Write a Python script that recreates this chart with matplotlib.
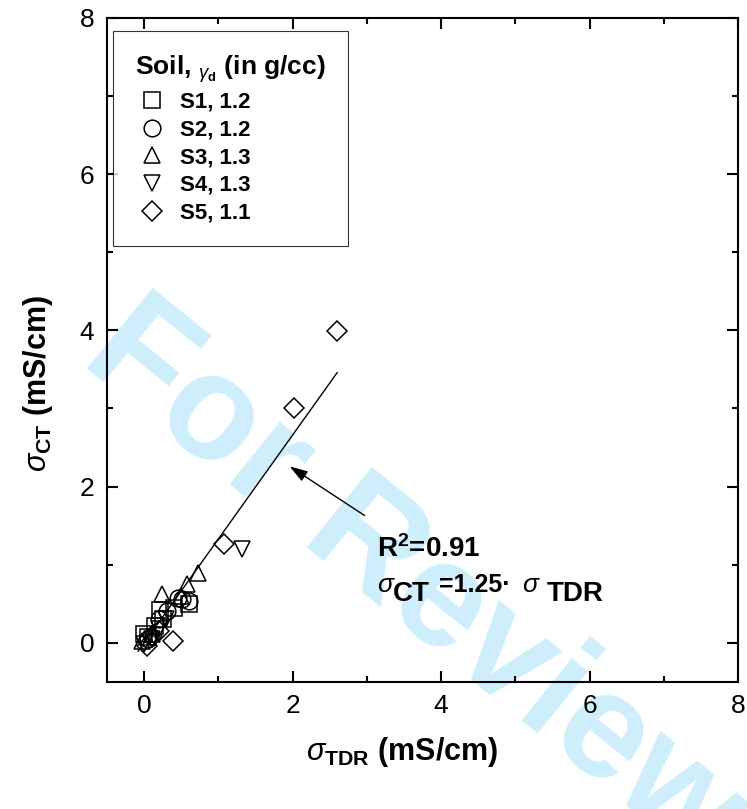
import matplotlib
matplotlib.use('Agg')
import matplotlib.pyplot as plt
import numpy as np

plt.rcParams['font.family'] = ['Liberation Sans', 'DejaVu Sans']
plt.rcParams['mathtext.fontset'] = 'custom'
plt.rcParams['mathtext.rm'] = 'Liberation Sans'
plt.rcParams['mathtext.it'] = 'Liberation Sans:italic'
plt.rcParams['mathtext.bf'] = 'Liberation Sans:bold'

# data (sigma_TDR, sigma_CT in mS/cm)
s1_x = [0.0, 0.05, 0.15, 0.22, 0.25, 0.4, 0.6]
s1_y = [0.12, 0.08, 0.22, 0.42, 0.3, 0.45, 0.5]
s2_x = [0.05, 0.2, 0.31, 0.45, 0.51, 0.6]
s2_y = [0.05, 0.3, 0.41, 0.58, 0.56, 0.54]
s3_x = [-0.03, 0.1, 0.24, 0.5, 0.58, 0.73]
s3_y = [0.02, 0.12, 0.62, 0.6, 0.75, 0.9]
s4_x = [0.0, 0.1, 0.2, 0.3, 1.32]
s4_y = [-0.02, 0.05, 0.18, 0.3, 1.2]
s5_x = [0.04, 0.11, 0.2, 0.39, 1.08, 2.02, 2.6]
s5_y = [-0.04, 0.09, 0.15, 0.02, 1.27, 3.0, 3.99]

series = [
    ('S1, 1.2', 's', s1_x, s1_y),
    ('S2, 1.2', 'o', s2_x, s2_y),
    ('S3, 1.3', '^', s3_x, s3_y),
    ('S4, 1.3', 'v', s4_x, s4_y),
    ('S5, 1.1', 'D', s5_x, s5_y),
]

# fitted line as drawn
fit_x = np.array([-0.08, 2.6])
fit_slope = 1.33

fig = plt.figure(figsize=(7.47, 8.09), dpi=100)
ax = fig.add_axes([0.1432, 0.157, 0.8448, 0.821])
ax.patch.set_facecolor('none')

# watermark
fig.text(0.555, 0.278, 'For Review', fontsize=108, fontweight='bold', color='#cfeefc',
         rotation=-39, rotation_mode='anchor', ha='center', va='center', zorder=-5)

for name, mk, xs, ys in series:
    ms = 10.5 if mk == 'D' else 12
    ax.plot(xs, ys, linestyle='none', marker=mk, markersize=ms, markerfacecolor='none',
            markeredgecolor='black', markeredgewidth=1.1, label=name)

ax.plot(fit_x, fit_slope * fit_x, color='black', linewidth=1)

ax.annotate('', xy=(1.96, 2.26), xytext=(2.97, 1.63),
            arrowprops=dict(arrowstyle='-|>,head_length=1.1,head_width=0.35',
                            color='black', lw=1, shrinkA=0, shrinkB=0))
ax.text(3.14, 1.10, r'R$^\mathbf{2}$=0.91', fontsize=20, fontweight='bold', va='baseline')

# second line of the annotation, built piece by piece
eq_parts = [
    (r'$\sigma$', 0, 0, 19, 'normal'),
    ('CT', 16, -9, 20, 'bold'),
    ('=1.25\u00b7', 62, 0, 18, 'bold'),
    (r'$\sigma$', 145, 0, 19, 'normal'),
    ('TDR', 170, -9, 20, 'bold'),
]
for txt, dx, dy, fs, fw in eq_parts:
    ax.annotate(txt, xy=(3.14, 0.65), xytext=(dx, dy), textcoords='offset pixels',
                fontsize=fs, fontweight=fw, va='baseline', ha='left')

ax.set_xlim(-0.5, 8)
ax.set_ylim(-0.5, 8)
ax.set_xticks([0, 2, 4, 6, 8])
ax.set_yticks([0, 2, 4, 6, 8])
ax.set_xticks([1, 3, 5, 7], minor=True)
ax.set_yticks([1, 3, 5, 7], minor=True)
ax.tick_params(which='both', direction='in', top=True, right=True, labelsize=19, width=1.5)
ax.tick_params(which='major', length=8, pad=9)
ax.tick_params(which='minor', length=4)
for sp in ax.spines.values():
    sp.set_linewidth(1.5)

ax.set_xlabel(r'$\sigma_{\mathbf{TDR}}$ (mS/cm)', fontsize=22, fontweight='bold')
ax.set_ylabel(r'$\sigma_{\mathbf{CT}}$ (mS/cm)', fontsize=22, fontweight='bold')
ax.xaxis.set_label_coords(0.468, -0.08)
ax.yaxis.set_label_coords(-0.082, 0.45)

leg = ax.legend(loc='upper left', bbox_to_anchor=(0.009, 0.98), frameon=True, fancybox=False,
                edgecolor='black', prop={'weight': 'bold', 'size': 16},
                title=r'Soil, ${}_{\gamma_\mathbf{d}}$ (in g/cc)',
                title_fontproperties={'weight': 'bold', 'size': 19},
                alignment='left', borderpad=1.0, handlelength=1.5, handletextpad=0.55,
                labelspacing=0.3, borderaxespad=0)
leg.get_frame().set_linewidth(0.8)

fig.savefig('out.png', dpi=100)
